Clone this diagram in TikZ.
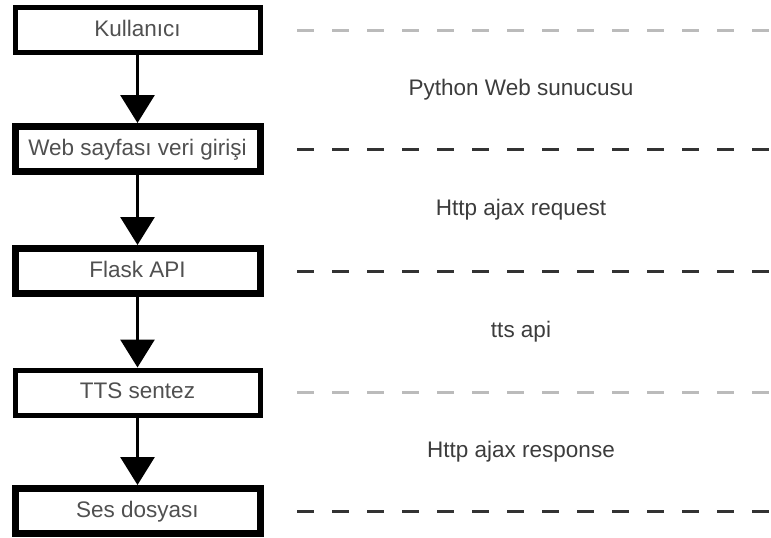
\documentclass[tikz,border=0pt]{standalone}
\usepackage{fontspec}
\setmainfont{Liberation Sans}
\usetikzlibrary{arrows.meta}
\definecolor{boxtext}{HTML}{505050}
\definecolor{labeltext}{HTML}{3C3C3C}
\definecolor{darkdash}{HTML}{333333}
\definecolor{lightdash}{HTML}{BBBBBB}

\begin{document}
\begin{tikzpicture}[x=1pt,y=-1pt,
  stage/.style={draw=black, fill=white, minimum width=245pt, minimum height=45pt,
    inner sep=0pt, text height=16pt, text depth=4pt,
    font=\fontsize{22.5}{24}\selectfont, text=boxtext},
  thinrim/.style={line width=5pt},
  thickrim/.style={line width=7pt},
  flow/.style={line width=3pt, -{Triangle[width=34pt,length=28pt]}},
  lane/.style={line width=3pt, dash pattern=on 17pt off 18pt},
  lanelabel/.style={font=\fontsize{22.5}{24}\selectfont, text=labeltext}]

  % canvas
  \useasboundingbox (0,0) rectangle (771,538);

  % horizontal extent of the dashed lanes
  \coordinate (lanestart) at (297,0);
  \coordinate (laneend) at (771,0);

  % process stages
  \node[stage, thinrim]  (b1) at (137.5,30)  {Kullanıcı};
  \node[stage, thickrim] (b2) at (137.5,149) {Web sayfası veri girişi};
  \node[stage, thickrim] (b3) at (137.5,271) {Flask API};
  \node[stage, thinrim]  (b4) at (137.5,392.5) {TTS sentez};
  \node[stage, thickrim] (b5) at (137.5,511) {Ses dosyası};

  % flow between stages
  \draw[flow] (b1) -- (b2);
  \draw[flow] (b2) -- (b3);
  \draw[flow] (b3) -- (b4);
  \draw[flow] (b4) -- (b5);

  % dashed lanes level with each stage
  \draw[lane, lightdash] (b1.east -| lanestart) -- (b1.east -| laneend);
  \draw[lane, darkdash]  (b2.east -| lanestart) -- (b2.east -| laneend);
  \draw[lane, darkdash]  (b3.east -| lanestart) -- (b3.east -| laneend);
  \draw[lane, lightdash] (b4.east -| lanestart) -- (b4.east -| laneend);
  \draw[lane, darkdash]  (b5.east -| lanestart) -- (b5.east -| laneend);

  % lane captions
  \node[lanelabel] (l1) at (521,89.5)  {Python Web sunucusu};
  \node[lanelabel] (l2) at (521,210)   {Http ajax request};
  \node[lanelabel] (l3) at (521,331.5) {tts api};
  \node[lanelabel] (l4) at (521,451.5) {Http ajax response};
\end{tikzpicture}
\end{document}
